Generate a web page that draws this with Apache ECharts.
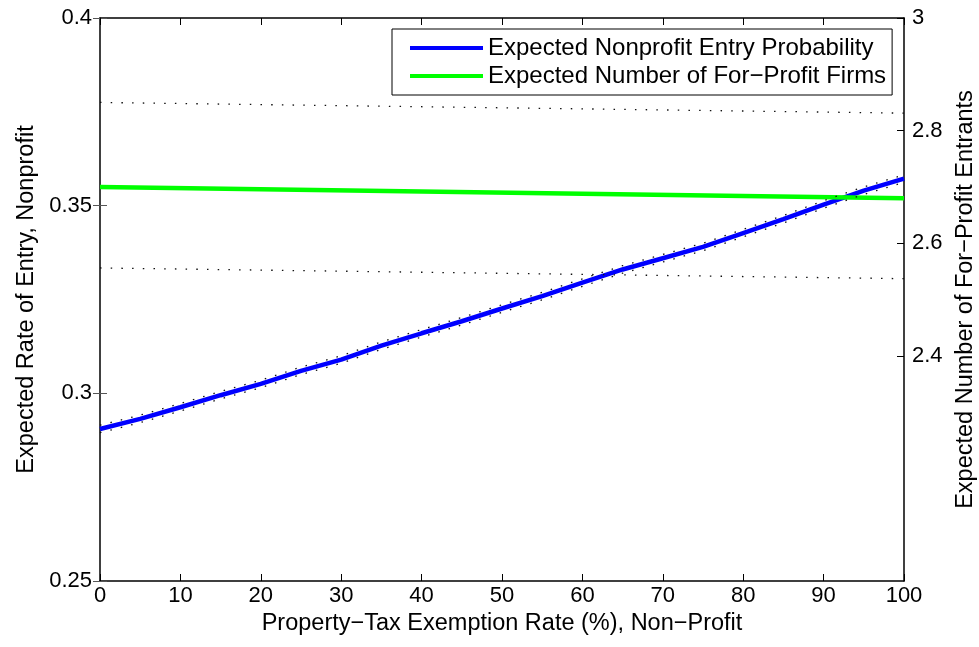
<!DOCTYPE html>
<html>
<head>
<meta charset="utf-8">
<script src="https://cdn.jsdelivr.net/npm/echarts@6/dist/echarts.min.js"></script>
<style>html,body{margin:0;padding:0;background:#fff}#c{width:979px;height:647px}</style>
</head>
<body>
<div id="c"></div>
<script>
// x values: property-tax exemption rate (%)
const xValues = [0, 5, 10, 15, 20, 25, 30, 35, 40, 45, 50, 55, 60, 65, 70, 75, 80, 85, 90, 95, 100];
// Expected nonprofit entry probability (left axis)
const nonprofitEntry = [0.2905, 0.2932, 0.2963, 0.2995, 0.3025, 0.3060, 0.3090, 0.3127, 0.3160, 0.3192, 0.3226, 0.3259, 0.3295, 0.3330, 0.3360, 0.3390, 0.3427, 0.3464, 0.3503, 0.3540, 0.3572];
// tight dotted bounds around nonprofit entry probability
const nonprofitUpper = [0.2915, 0.2942, 0.2973, 0.3005, 0.3035, 0.3070, 0.3100, 0.3137, 0.3170, 0.3202, 0.3236, 0.3269, 0.3305, 0.3340, 0.3370, 0.3400, 0.3437, 0.3474, 0.3513, 0.3550, 0.3582];
const nonprofitLower = [0.2895, 0.2922, 0.2953, 0.2985, 0.3015, 0.3050, 0.3080, 0.3117, 0.3150, 0.3182, 0.3216, 0.3249, 0.3285, 0.3320, 0.3350, 0.3380, 0.3417, 0.3454, 0.3493, 0.3530, 0.3562];
// Expected number of for-profit firms (right axis)
const forProfitX = [0, 100];
const forProfitFirms = [2.700, 2.680];
const forProfitUpper = [2.850, 2.831];
const forProfitLower = [2.556, 2.537];
// tick labels
const xTicks = [0, 10, 20, 30, 40, 50, 60, 70, 80, 90, 100];
const leftTicks = [0.25, 0.3, 0.35, 0.4];
const rightTicks = [2.4, 2.6, 2.8, 3];

const FONT = 'Liberation Sans';
const TICK_FS = 22, TITLE_FS = 23.5, LEGEND_FS = 24;
const pairs = (xs, ys) => xs.map((x, i) => [x, ys[i]]);

const chart = echarts.init(document.getElementById('c'), null, {renderer: 'canvas'});
const dotted = {color: '#111', width: 1.3, type: [1.5, 9.2]};
chart.setOption({
  animation: false,
  backgroundColor: '#fff',
  grid: {left: 100, right: 75, top: 18, bottom: 66, containLabel: false, outerBoundsMode: 'none'},
  legend: {
    data: ['Expected Nonprofit Entry Probability', 'Expected Number of For\u2212Profit Firms'],
    orient: 'vertical',
    left: 392, top: 29,
    backgroundColor: '#fff',
    borderColor: '#000', borderWidth: 1, borderRadius: 0,
    padding: [7, 6, 7, 18],
    itemGap: 4,
    itemWidth: 73, itemHeight: 4,
    icon: 'rect',
    textStyle: {fontFamily: FONT, fontSize: LEGEND_FS, color: '#000'}
  },
  xAxis: [{
    type: 'value', min: 0, max: 100, interval: 10, position: 'bottom',
    name: 'Property\u2212Tax Exemption Rate (%), Non\u2212Profit',
    nameLocation: 'middle', nameGap: 28,
    nameTextStyle: {fontFamily: FONT, fontSize: TITLE_FS, color: '#000'},
    axisLine: {show: true, onZero: false, lineStyle: {color: '#000', width: 1.5}},
    axisTick: {show: true, inside: true, length: 7, lineStyle: {color: '#000'},
      customValues: xTicks},
    axisLabel: {fontFamily: FONT, fontSize: TICK_FS, color: '#000', margin: 4,
      customValues: xTicks},
    splitLine: {show: false}
  }, {
    type: 'value', min: 0, max: 100, interval: 10, position: 'top',
    axisLine: {show: true, onZero: false, lineStyle: {color: '#000', width: 1.5}},
    axisTick: {show: true, inside: true, length: 7, lineStyle: {color: '#000'}},
    axisLabel: {show: false}, splitLine: {show: false}
  }],
  yAxis: [{
    type: 'value', min: 0.25, max: 0.4, interval: 0.05, position: 'left',
    name: 'Expected Rate of Entry, Nonprofit',
    nameLocation: 'middle', nameGap: 51, nameRotate: 90,
    nameTextStyle: {fontFamily: FONT, fontSize: TITLE_FS, color: '#000'},
    axisLine: {show: true, onZero: false, lineStyle: {color: '#000', width: 1.5}},
    axisTick: {show: true, inside: true, length: 7, lineStyle: {color: '#555'}},
    axisLabel: {fontFamily: FONT, fontSize: TICK_FS, color: '#000', margin: 8,
      customValues: leftTicks},
    splitLine: {show: false}
  }, {
    type: 'value', min: 2, max: 3, interval: 0.2, position: 'right',
    name: 'Expected Number of For\u2212Profit Entrants',
    nameLocation: 'middle', nameGap: 49, nameRotate: 90,
    nameTextStyle: {fontFamily: FONT, fontSize: TITLE_FS, color: '#000'},
    axisLine: {show: true, onZero: false, lineStyle: {color: '#000', width: 1.5}},
    axisTick: {show: true, inside: true, length: 7, lineStyle: {color: '#000'},
      customValues: rightTicks},
    axisLabel: {fontFamily: FONT, fontSize: TICK_FS, color: '#000', margin: 8,
      customValues: rightTicks},
    splitLine: {show: false}
  }, {
    type: 'value', min: 0.25, max: 0.4, interval: 0.05, position: 'right',
    axisLine: {show: false},
    axisTick: {show: true, inside: true, length: 7, lineStyle: {color: '#555'}},
    axisLabel: {show: false}, splitLine: {show: false}
  }],
  series: [
    {name: 'Expected Nonprofit Entry Probability', type: 'line', xAxisIndex: 0, yAxisIndex: 0,
     data: pairs(xValues, nonprofitEntry), showSymbol: false, symbol: 'none',
     lineStyle: {color: '#0000ff', width: 4.5}, itemStyle: {color: '#0000ff'}, z: 3},
    {name: 'Expected Number of For\u2212Profit Firms', type: 'line', xAxisIndex: 0, yAxisIndex: 1,
     data: pairs(forProfitX, forProfitFirms), showSymbol: false, symbol: 'none',
     lineStyle: {color: '#00ff00', width: 4.5}, itemStyle: {color: '#00ff00'}, z: 3},
    {name: 'npU', type: 'line', yAxisIndex: 0, data: pairs(xValues, nonprofitUpper),
     symbol: 'none', lineStyle: dotted, z: 4, silent: true},
    {name: 'npL', type: 'line', yAxisIndex: 0, data: pairs(xValues, nonprofitLower),
     symbol: 'none', lineStyle: dotted, z: 4, silent: true},
    {name: 'fpU', type: 'line', yAxisIndex: 1, data: pairs(forProfitX, forProfitUpper),
     symbol: 'none', lineStyle: dotted, z: 4, silent: true},
    {name: 'fpL', type: 'line', yAxisIndex: 1, data: pairs(forProfitX, forProfitLower),
     symbol: 'none', lineStyle: dotted, z: 4, silent: true}
  ]
});
</script>
</body>
</html>
